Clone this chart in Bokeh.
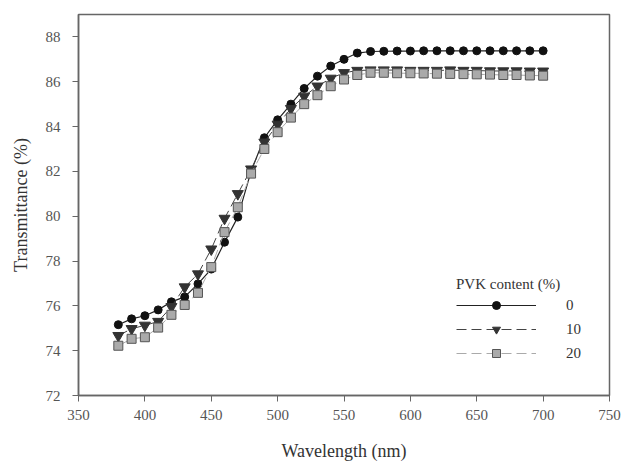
from bokeh.plotting import figure
from bokeh.models import Range1d, FixedTicker, Legend, LegendItem
from bokeh.embed import file_html
from bokeh.resources import INLINE

wavelength = list(range(380, 701, 10))
pvk0 = [75.16, 75.42, 75.56, 75.82, 76.18, 76.40, 76.98, 77.64, 78.84, 79.96,
        82.00, 83.50, 84.30, 85.00, 85.70, 86.25, 86.70, 87.00, 87.28, 87.35,
        87.36, 87.37, 87.37, 87.38, 87.38, 87.38, 87.38, 87.38, 87.38, 87.38,
        87.38, 87.38, 87.38]
pvk10 = [74.67, 74.98, 75.13, 75.30, 75.96, 76.84, 77.42, 78.53, 79.90, 81.00,
         82.10, 83.30, 84.10, 84.80, 85.35, 85.80, 86.15, 86.40, 86.50, 86.52,
         86.52, 86.52, 86.50, 86.50, 86.50, 86.52, 86.50, 86.50, 86.48, 86.48,
         86.48, 86.47, 86.47]
pvk20 = [74.22, 74.53, 74.60, 75.03, 75.60, 76.04, 76.58, 77.73, 79.29, 80.40,
         81.90, 83.00, 83.75, 84.40, 85.00, 85.40, 85.80, 86.10, 86.30, 86.40,
         86.40, 86.38, 86.38, 86.37, 86.36, 86.35, 86.34, 86.33, 86.32, 86.30,
         86.30, 86.28, 86.27]
x_ticks = list(range(350, 751, 50))
y_ticks = list(range(72, 89, 2))
labels = ["0", "10", "20"]

FONT = "'Liberation Serif', 'Times New Roman', serif"

p = figure(width=624, height=465, output_backend="svg", toolbar_location=None,
           x_range=Range1d(350, 750), y_range=Range1d(72, 89),
           min_border_left=78, min_border_right=15, min_border_top=14, min_border_bottom=70)
p.background_fill_color = "white"
p.border_fill_color = "white"
p.outline_line_color = "#666666"
p.outline_line_width = 1.5
p.xgrid.visible = False
p.ygrid.visible = False

for ax in (p.xaxis[0], p.yaxis[0]):
    ax.axis_line_color = "#666666"
    ax.axis_line_width = 1.5
    ax.major_tick_line_color = "#666666"
    ax.major_tick_in = 0
    ax.major_tick_out = 6
    ax.minor_tick_line_color = None
    ax.major_label_text_font = FONT
    ax.major_label_text_font_size = "15px"
    ax.major_label_text_color = "#555555"
    ax.axis_label_text_font = FONT
    ax.axis_label_text_font_size = "18px"
    ax.axis_label_text_font_style = "normal"
    ax.axis_label_text_color = "#333333"

p.xaxis.ticker = FixedTicker(ticks=x_ticks)
p.yaxis.ticker = FixedTicker(ticks=y_ticks)
p.xaxis.axis_label = "Wavelength (nm)"
p.yaxis.axis_label = "Transmittance (%)"
p.xaxis.major_label_standoff = 8
p.xaxis.axis_label_standoff = 18
p.yaxis.major_label_standoff = 12
p.yaxis.axis_label_standoff = 12

l0 = p.line(wavelength, pvk0, line_color="#222222", line_width=1.2)
m0 = p.scatter(wavelength, pvk0, marker="circle", size=8, fill_color="#111111", line_color="#111111")
l1 = p.line(wavelength, pvk10, line_color="#444444", line_width=1.0, line_dash="10 5")
m1 = p.scatter(wavelength, pvk10, marker="inverted_triangle", size=11, fill_color="#333333", line_color="#333333")
l2 = p.line(wavelength, pvk20, line_color="#aaaaaa", line_width=1.0, line_dash="10 5")
m2 = p.scatter(wavelength, pvk20, marker="square", size=9, fill_color="#aaaaaa", line_color="#555555")

legend = Legend(items=[LegendItem(label=labels[0], renderers=[l0, m0]),
                       LegendItem(label=labels[1], renderers=[l1, m1]),
                       LegendItem(label=labels[2], renderers=[l2, m2])],
                location=(378, 32), title="PVK content (%)",
                glyph_width=80, glyph_height=20, label_standoff=30, spacing=4,
                padding=4, margin=0, title_standoff=2)
legend.title_text_font = FONT
legend.title_text_font_size = "15px"
legend.title_text_font_style = "normal"
legend.title_text_color = "#333333"
legend.label_text_font = FONT
legend.label_text_font_size = "15px"
legend.label_text_color = "#333333"
legend.border_line_color = None
legend.background_fill_alpha = 0
p.add_layout(legend)

open("out.html", "w").write(file_html(p, INLINE))
